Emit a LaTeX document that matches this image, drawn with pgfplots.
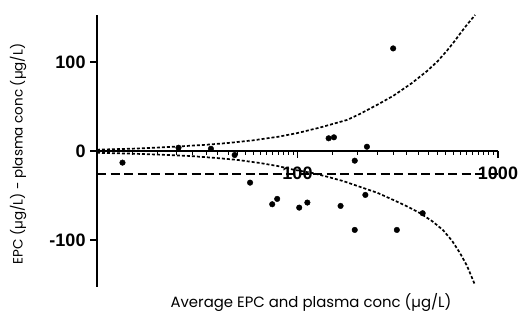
\documentclass[border=0pt]{standalone}
\usepackage{fontspec}
\setmainfont{Poppins}
\newfontfamily\tickfont{Liberation Sans}
\usepackage{pgfplots}
\pgfplotsset{compat=1.18}
\usetikzlibrary{calc}

\begin{document}
\begin{tikzpicture}
\begin{axis}[
  xmode=log,
  xmin=10, xmax=1000,
  ymin=-153, ymax=153,
  scale only axis,
  width=401pt, height=272pt,
  name=ax,
  at={(0pt,0pt)}, anchor=south west,
  axis x line=bottom,
  axis y line=left,
  axis line style={-, line width=1.8pt},
  every outer x axis line/.append style={-},
  every outer y axis line/.append style={-},
  % the x axis runs through y = 0
  x axis line style={yshift=136pt},
  xticklabel style={yshift=131pt},
  tick align=outside,
  major tick length=7pt,
  xtick style={draw=none},
  ytick style={black, line width=1.3pt},
  xtick={100,1000},
  xticklabels={100,1000},
  ytick={-100,0,100},
  yticklabels={-100,0,100},
  ticklabel style={font=\tickfont\bfseries\fontsize{18}{18}\selectfont},
  yticklabel style={xshift=-1pt},
  clip=false,
]
% tick marks hanging below the x axis line
\addplot[black, line width=1.3pt, unbounded coords=jump] coordinates {
  (100,0) (100,-8) (nan,nan) (1000,0) (1000,-8)};
\addplot[black, line width=0.9pt, unbounded coords=jump] coordinates {
  (15,0) (15,-4.5) (nan,nan) (20,0) (20,-4.5) (nan,nan) (25,0) (25,-4.5) (nan,nan)
  (30,0) (30,-4.5) (nan,nan) (35,0) (35,-4.5) (nan,nan) (40,0) (40,-4.5) (nan,nan)
  (45,0) (45,-4.5) (nan,nan) (50,0) (50,-4.5) (nan,nan) (55,0) (55,-4.5) (nan,nan)
  (60,0) (60,-4.5) (nan,nan) (65,0) (65,-4.5) (nan,nan) (70,0) (70,-4.5) (nan,nan)
  (75,0) (75,-4.5) (nan,nan) (80,0) (80,-4.5) (nan,nan) (85,0) (85,-4.5) (nan,nan)
  (90,0) (90,-4.5) (nan,nan) (95,0) (95,-4.5) (nan,nan)
  (150,0) (150,-4.5) (nan,nan) (200,0) (200,-4.5) (nan,nan) (250,0) (250,-4.5) (nan,nan)
  (300,0) (300,-4.5) (nan,nan) (350,0) (350,-4.5) (nan,nan) (400,0) (400,-4.5) (nan,nan)
  (450,0) (450,-4.5) (nan,nan) (500,0) (500,-4.5) (nan,nan) (550,0) (550,-4.5) (nan,nan)
  (600,0) (600,-4.5) (nan,nan) (650,0) (650,-4.5) (nan,nan) (700,0) (700,-4.5) (nan,nan)
  (750,0) (750,-4.5) (nan,nan) (800,0) (800,-4.5) (nan,nan) (850,0) (850,-4.5) (nan,nan)
  (900,0) (900,-4.5) (nan,nan) (950,0) (950,-4.5)};
% bias of the differences
\addplot[black, line width=2.4pt, dash pattern=on 9pt off 4.5pt] coordinates {(10,-26) (1000,-26)};
% upper limit of agreement
\addplot[black, line width=1.7pt, dash pattern=on 3pt off 2pt] coordinates {
  (10,1.5) (15,2.6) (20,3.8) (26,5.2) (35,7) (45,9) (60,12) (80,16) (100,20.2)
  (130,26.5) (177,35) (206,42) (250,52) (300,62) (370,76) (443,90) (500,101)
  (557,113) (600,122) (647,132) (700,142) (769,153)};
% lower limit of agreement
\addplot[black, line width=1.7pt, dash pattern=on 3pt off 2pt] coordinates {
  (10,-2) (15,-3) (20,-4) (29,-5.6) (40,-8) (50,-10) (65,-13.5) (80,-17) (95.5,-21)
  (120,-25) (141,-29) (170,-34) (206,-40.5) (250,-47) (300,-55) (350,-62) (409,-70)
  (470,-79) (532,-89) (590,-101) (647,-115) (700,-129) (769,-151)};
% paired differences
\addplot[only marks, mark=*, mark size=2.8pt, black] coordinates {
  (13.4,-13.1) (25.5,3.7) (37,2.5) (48.6,-4.5) (58,-35.6) (74.8,-59.9) (79.2,-53.9)
  (102,-63.7) (112,-58) (143,14.3) (152,15.4) (164,-61.8) (193,-10.9) (193,-88.8)
  (218,-49.4) (222,4.8) (300,115.4) (313,-88.8) (421,-70)};
\end{axis}
\node[rotate=90, font=\fontsize{13.5}{15}\selectfont] at ($(ax.west)+(-79pt,-3pt)$) {EPC (µg/L) - plasma conc (µg/L)};
\node[font=\fontsize{14.9}{17}\selectfont] at ($(ax.south west)+(214pt,-15pt)$) {Average EPC and plasma conc (µg/L)};
\pgfresetboundingbox
\useasboundingbox ($(ax.south west)+(-97pt,-37pt)$) rectangle ($(ax.north east)+(22pt,15pt)$);
\end{tikzpicture}
\end{document}
